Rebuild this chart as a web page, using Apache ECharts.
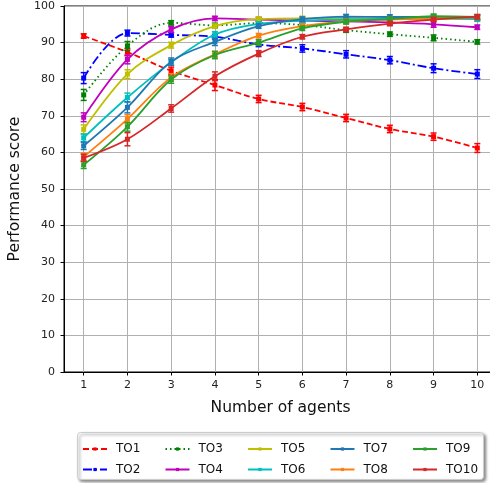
<!DOCTYPE html>
<html>
<head>
<meta charset="utf-8">
<script src="https://cdn.jsdelivr.net/npm/echarts@6/dist/echarts.min.js"></script>
<style>html,body{margin:0;padding:0;background:#fff}#c{width:490px;height:483px}</style>
</head>
<body>
<div id="c"></div>
<script>
const agents = [1, 2, 3, 4, 5, 6, 7, 8, 9, 10];
const names = ['TO1','TO2','TO3','TO4','TO5','TO6','TO7','TO8','TO9','TO10'];
const TO1  = [91.8, 87.4, 82.3, 78.4, 74.6, 72.4, 69.4, 66.4, 64.3, 61.2];
const TO2  = [80.3, 92.6, 92.1, 91.6, 89.5, 88.4, 86.8, 85.2, 83.0, 81.4];
const TO3  = [75.7, 89.1, 95.4, 94.7, 95.3, 94.8, 93.4, 92.3, 91.3, 90.2];
const TO4  = [69.6, 85.4, 93.6, 96.6, 96.3, 96.0, 95.8, 95.5, 95.0, 94.2];
const TO5  = [66.3, 81.4, 89.3, 94.5, 96.4, 96.6, 96.6, 96.5, 96.5, 96.5];
const TO6  = [64.0, 75.0, 84.6, 92.2, 95.1, 96.0, 96.3, 96.5, 96.6, 96.4];
const TO7  = [61.8, 72.3, 84.8, 90.2, 94.5, 96.4, 97.1, 97.0, 97.0, 96.8];
const TO8  = [58.8, 69.1, 80.5, 86.8, 91.9, 94.5, 95.8, 96.3, 96.6, 96.9];
const TO9  = [56.6, 67.0, 79.9, 86.6, 90.0, 93.9, 95.7, 96.4, 97.2, 97.0];
const TO10 = [58.5, 63.6, 72.0, 80.8, 87.0, 91.6, 93.6, 95.2, 96.3, 97.1];
const ERR1  = [0.6, 1.0, 1.0, 1.5, 1.0, 1.0, 1.0, 1.0, 1.0, 1.2];
const ERR2  = [1.5, 0.8, 0.6, 0.6, 0.6, 1.0, 1.0, 1.0, 1.2, 1.2];
const ERR3  = [1.5, 1.2, 0.6, 0.6, 0.6, 0.6, 0.6, 0.6, 0.8, 0.6];
const ERR4  = [1.2, 1.2, 0.8, 0.6, 0.6, 0.6, 0.6, 0.6, 0.8, 0.6];
const ERR5  = [1.2, 1.2, 0.8, 0.6, 0.6, 0.6, 0.6, 0.6, 0.6, 0.6];
const ERR6  = [1.0, 1.2, 0.8, 0.8, 0.6, 0.6, 0.6, 0.6, 0.6, 0.6];
const ERR7  = [1.0, 1.5, 1.0, 1.0, 0.6, 0.6, 0.6, 0.6, 0.6, 0.6];
const ERR8  = [1.0, 1.2, 1.0, 0.8, 0.6, 0.6, 0.6, 0.6, 0.6, 0.6];
const ERR9  = [1.0, 1.2, 1.0, 1.0, 0.8, 0.6, 0.6, 0.6, 0.6, 0.6];
const ERR10 = [1.0, 1.8, 1.0, 1.2, 0.8, 0.6, 0.6, 0.6, 0.6, 0.6];

const values = [TO1, TO2, TO3, TO4, TO5, TO6, TO7, TO8, TO9, TO10];
const errors = [ERR1, ERR2, ERR3, ERR4, ERR5, ERR6, ERR7, ERR8, ERR9, ERR10];
const colors = ['#ff0000','#0000ff','#008000','#bf00bf','#bfbf00','#00bfbf','#1f77b4','#ff7f0e','#2ca02c','#d62728'];
const dashes = [[6,3],[9,3,2,3],[1.5,3],'solid','solid','solid','solid','solid','solid','solid'];

const chart = echarts.init(document.getElementById('c'), null, {renderer: 'canvas'});
const series = [];
names.forEach((n, i) => {
  series.push({
    name: n, type: 'line', smooth: 0.35,
    data: agents.map((x, j) => [x, values[i][j]]),
    symbol: 'rect', symbolSize: 5,
    lineStyle: {color: colors[i], width: 1.8, type: dashes[i]},
    itemStyle: {color: colors[i]},
    z: 3 + i * 0.01
  });
  const c = colors[i];
  series.push({
    name: n + ' err', type: 'custom',
    data: agents.map((x, j) => [x, values[i][j], errors[i][j]]),
    encode: {x: 0, y: 1},
    z: 3 + i * 0.01,
    renderItem: function (params, api) {
      const x = api.value(0), y = api.value(1), e = api.value(2);
      const t = api.coord([x, y + e]);
      const b = api.coord([x, y - e]);
      const st = {stroke: c, lineWidth: 1.5};
      return {type: 'group', children: [
        {type: 'line', shape: {x1: t[0], y1: t[1], x2: b[0], y2: b[1]}, style: st},
        {type: 'line', shape: {x1: t[0] - 3, y1: t[1], x2: t[0] + 3, y2: t[1]}, style: st},
        {type: 'line', shape: {x1: b[0] - 3, y1: b[1], x2: b[0] + 3, y2: b[1]}, style: st}
      ]};
    }
  });
});

// legend: 5 columns x 2 rows, column-major
const colLeft = [82, 164.5, 247, 329.5, 412];
const rowCenter = [445, 465.5];
const legends = names.map((n, i) => {
  const col = Math.floor(i / 2), row = i % 2;
  return {
    z: 60, left: colLeft[col], top: rowCenter[row] - 2, padding: 0,
    itemWidth: 24, itemHeight: 4, itemGap: 0,
    data: [n], selectedMode: false,
    textStyle: {fontSize: 12, color: '#111', padding: [0, 0, 0, 4], fontFamily: 'DejaVu Sans'}
  };
});

chart.setOption({
  animation: false,
  backgroundColor: '#fff',
  textStyle: {fontFamily: 'DejaVu Sans'},
  grid: {left: 64, right: -7, top: 6, bottom: 111, outerBoundsMode: 'none', containLabel: false,
         show: true, borderColor: '#000', borderWidth: 1, backgroundColor: 'transparent'},
  xAxis: {
    type: 'value', min: 0.55, max: 10.45,
    name: 'Number of agents', nameLocation: 'middle', nameGap: 28,
    nameTextStyle: {fontSize: 15.5, color: '#111', fontFamily: 'DejaVu Sans'},
    axisLine: {show: true, lineStyle: {color: '#000', width: 1}},
    axisTick: {show: true, length: 3.5, lineStyle: {color: '#000'}, customValues: agents},
    axisLabel: {fontSize: 11, color: '#222', margin: 8, customValues: agents, fontFamily: 'DejaVu Sans'},
    splitLine: {show: true, lineStyle: {color: '#b0b0b0', width: 1}}
  },
  yAxis: {
    type: 'value', min: 0, max: 100, interval: 10,
    name: 'Performance score', nameLocation: 'middle', nameGap: 38,
    nameTextStyle: {fontSize: 15.5, color: '#111', fontFamily: 'DejaVu Sans'},
    axisLine: {show: true, lineStyle: {color: '#000', width: 1}},
    axisTick: {show: true, length: 3.5, lineStyle: {color: '#000'}},
    axisLabel: {fontSize: 11, color: '#222', margin: 9, fontFamily: 'DejaVu Sans'},
    splitLine: {show: true, lineStyle: {color: '#b0b0b0', width: 1}}
  },
  graphic: [{
    type: 'rect', z: 50, left: 77, top: 432,
    shape: {width: 406, height: 47, r: 3},
    style: {fill: '#fff', stroke: '#cccccc', lineWidth: 1, shadowBlur: 3, shadowOffsetX: 2, shadowOffsetY: 2, shadowColor: 'rgba(0,0,0,0.45)'}
  }],
  legend: legends,
  series: series
});
</script>
</body>
</html>
